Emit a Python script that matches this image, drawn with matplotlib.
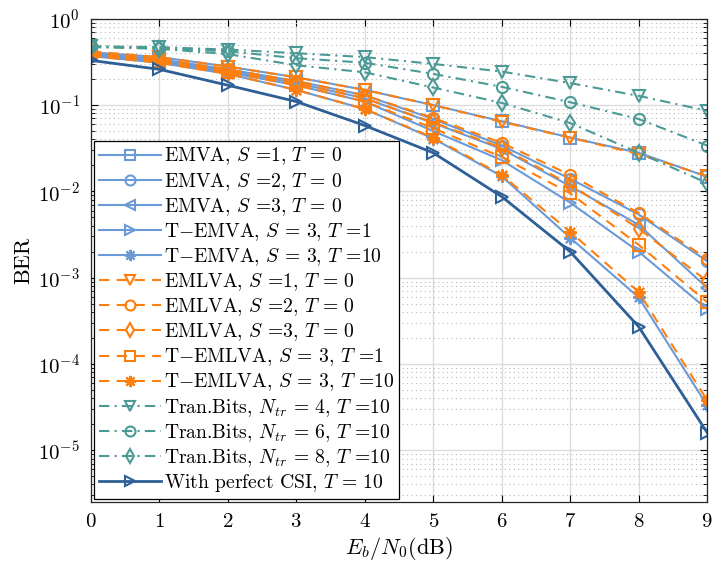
import numpy as np
import matplotlib
matplotlib.use("Agg")
import matplotlib.pyplot as plt
from matplotlib.ticker import LogLocator, NullFormatter

plt.rcParams["font.family"] = ["cmr10", "DejaVu Serif"]
plt.rcParams["mathtext.fontset"] = "cm"
plt.rcParams["axes.unicode_minus"] = False
plt.rcParams["axes.formatter.use_mathtext"] = True

# ── BER data vs Eb/N0 ─────────────────────────────────────────────────────────
ebn0 = [0, 1, 2, 3, 4, 5, 6, 7, 8, 9]

emva_s1   = [0.41, 0.36, 0.28, 0.21, 0.15, 0.100, 0.065, 0.042, 0.028, 0.0148]
emva_s2   = [0.40, 0.34, 0.26, 0.19, 0.13, 0.069, 0.034, 0.014, 5.4e-3, 1.55e-3]
emva_s3   = [0.39, 0.33, 0.25, 0.18, 0.12, 0.062, 0.031, 0.0115, 4.1e-3, 7.6e-4]
temva_t1  = [0.38, 0.32, 0.24, 0.17, 0.11, 0.050, 0.023, 0.0074, 2.0e-3, 4.3e-4]
temva_t10 = [0.37, 0.31, 0.23, 0.15, 0.090, 0.041, 0.015, 2.9e-3, 5.9e-4, 3.3e-5]

emlva_s1   = [0.42, 0.36, 0.28, 0.21, 0.15, 0.100, 0.064, 0.042, 0.027, 0.015]
emlva_s2   = [0.40, 0.34, 0.26, 0.19, 0.13, 0.071, 0.0365, 0.0155, 5.6e-3, 1.65e-3]
emlva_s3   = [0.39, 0.33, 0.25, 0.18, 0.12, 0.063, 0.032, 0.012, 3.7e-3, 9.1e-4]
temlva_t1  = [0.38, 0.32, 0.24, 0.17, 0.11, 0.054, 0.025, 0.0095, 2.4e-3, 5.2e-4]
temlva_t10 = [0.37, 0.31, 0.23, 0.15, 0.090, 0.042, 0.0155, 3.4e-3, 6.8e-4, 3.8e-5]

tran_n4 = [0.48, 0.47, 0.44, 0.40, 0.36, 0.30, 0.245, 0.18, 0.128, 0.086]
tran_n6 = [0.48, 0.46, 0.42, 0.35, 0.31, 0.23, 0.163, 0.108, 0.069, 0.034]
tran_n8 = [0.47, 0.45, 0.39, 0.29, 0.24, 0.16, 0.106, 0.062, 0.028, 0.0125]

perfect_csi = [0.33, 0.26, 0.17, 0.11, 0.058, 0.028, 0.0087, 0.0020, 2.7e-4, 1.6e-5]

labels = [
    r"EMVA, $S$ =1, $T$ = 0",
    r"EMVA, $S$ =2, $T$ = 0",
    r"EMVA, $S$ =3, $T$ = 0",
    r"T$-$EMVA, $S$ = 3, $T$ =1",
    r"T$-$EMVA, $S$ = 3, $T$ =10",
    r"EMLVA, $S$ =1, $T$ = 0",
    r"EMLVA, $S$ =2, $T$ = 0",
    r"EMLVA, $S$ =3, $T$ = 0",
    r"T$-$EMLVA, $S$ = 3, $T$ =1",
    r"T$-$EMLVA, $S$ = 3, $T$ =10",
    r"Tran.Bits, $N_{tr}$ = 4, $T$ =10",
    r"Tran.Bits, $N_{tr}$ = 6, $T$ =10",
    r"Tran.Bits, $N_{tr}$ = 8, $T$ =10",
    r"With perfect CSI, $T$ = 10",
]

C_EMVA  = "#6b9bd6"
C_EMLVA = "#ff7f0e"
C_TRAN  = "#4c9a96"
C_CSI   = "#2e5f96"

DASH    = (0, (5, 3.5))
DASHDOT = (0, (5, 2.5, 1, 2.5))
ASTER   = (8, 2, 0)   # 8-spoke asterisk

series = [
    (emva_s1,    C_EMVA,  "-",  "s"),
    (emva_s2,    C_EMVA,  "-",  "o"),
    (emva_s3,    C_EMVA,  "-",  "<"),
    (temva_t1,   C_EMVA,  "-",  ">"),
    (temva_t10,  C_EMVA,  "-",  ASTER),
    (emlva_s1,   C_EMLVA, DASH, "v"),
    (emlva_s2,   C_EMLVA, DASH, "o"),
    (emlva_s3,   C_EMLVA, DASH, "d"),
    (temlva_t1,  C_EMLVA, DASH, "s"),
    (temlva_t10, C_EMLVA, DASH, ASTER),
    (tran_n4,    C_TRAN,  DASHDOT, "v"),
    (tran_n6,    C_TRAN,  DASHDOT, "o"),
    (tran_n8,    C_TRAN,  DASHDOT, "d"),
    (perfect_csi, C_CSI,  "-",  ">"),
]

fig = plt.figure(figsize=(7.15, 5.71), dpi=100)
ax = fig.add_axes([0.127, 0.121, 0.862, 0.846])

for (vals, col, ls, mk), lab in zip(series, labels):
    lw = 2.0 if col == C_CSI else 1.5
    ms = 9 if mk == ASTER else 8
    ax.semilogy(ebn0, vals, color=col, linestyle=ls, marker=mk, lw=lw,
                ms=ms, mfc="none", mec=col, mew=1.5, label=lab)

ax.set_xlim(0, 9)
ax.set_ylim(10 ** -5.6, 1)
ax.set_xticks(ebn0)
ax.yaxis.set_major_locator(LogLocator(base=10, numticks=10))
ax.yaxis.set_minor_locator(LogLocator(base=10, subs=np.arange(2, 10), numticks=20))
ax.yaxis.set_minor_formatter(NullFormatter())

ax.grid(True, which="major", color="#dcdcdc", lw=1.0, ls="-")
ax.grid(True, which="minor", axis="y", color="#b8b8b8", lw=0.8, ls=(0, (1, 3)))
ax.set_axisbelow(True)

ax.tick_params(which="both", direction="in", top=True, right=True, labelsize=15)
ax.tick_params(which="major", length=5, width=0.8, pad=8)
ax.tick_params(which="minor", length=3, width=0.6)
for sp in ax.spines.values():
    sp.set_color("#262626")
    sp.set_linewidth(0.9)

ax.set_xlabel(r"$E_b/N_0$(dB)", fontsize=16, labelpad=3)
ax.set_ylabel("BER", fontsize=16, labelpad=3)

leg = ax.legend(loc="lower left", fontsize=14.1, frameon=True, fancybox=False,
                edgecolor="black", framealpha=1, borderaxespad=0.15,
                handlelength=3.2, handletextpad=0.15, labelspacing=0.17,
                borderpad=0.25, markerscale=0.9)
leg.get_frame().set_linewidth(0.9)

plt.savefig("out.png", dpi=100)
plt.close()
